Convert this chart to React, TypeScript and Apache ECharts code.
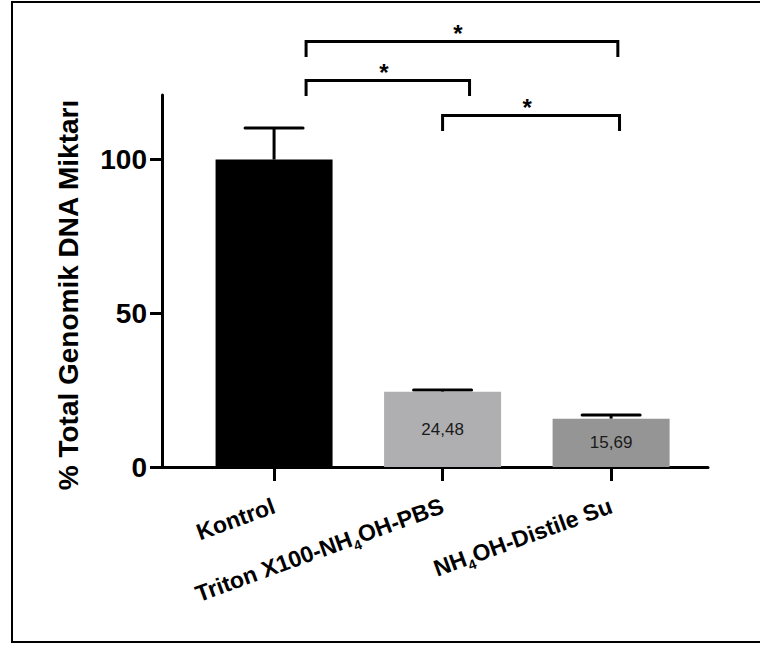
import React, { useEffect, useRef } from "react";
import * as echarts from "echarts";

const categories = ["Kontrol", "Triton X100-NH4OH-PBS", "NH4OH-Distile Su"];
const means = [100, 24.48, 15.69];
const errors = [10.3, 0.6, 1.25];
const barColors = ["#000000", "#afaeb1", "#959595"];
const yTicks = [0, 50, 100];
// significance brackets (x in category units, height in value units)
const sigFrom = [1.19, 1.19, 2.0];
const sigTo = [3.04, 2.16, 3.05];
const sigHeight = [138.4, 125.7, 114.3];
const sigMarks = ["*", "*", "*"];

const FONT = "'Liberation Sans', Arial, Helvetica, sans-serif";

export default function App() {
  const ref = useRef<HTMLDivElement>(null);
  useEffect(() => {
    if (!ref.current) return;
    const chart = echarts.init(ref.current, null, { renderer: "svg" });
    const positions = categories.map((_, i) => i + 1);
    const richLabels = categories.map((c) => c.replace(/NH4OH/g, "NH{sub|4}OH"));

    const option: any = {
      animation: false,
      backgroundColor: "#ffffff",
      grid: { left: 162, top: 95, right: 52, bottom: 179, containLabel: false },
      xAxis: {
        type: "value",
        min: 0.335,
        max: 3.575,
        splitLine: { show: false },
        axisLine: { show: true, lineStyle: { color: "#000", width: 3 } },
        axisTick: {
          show: true,
          customValues: positions,
          length: 14,
          lineStyle: { color: "#000", width: 3 },
        },
        axisLabel: {
          customValues: positions,
          rotate: 20,
          margin: 38,
          color: "#000",
          fontSize: 23,
          fontWeight: "bold",
          fontFamily: FONT,
          formatter: (v: number) => richLabels[Math.round(v) - 1] || "",
          rich: {
            sub: {
              fontSize: 14,
              fontWeight: "bold",
              fontFamily: FONT,
              color: "#000",
              verticalAlign: "bottom",
              padding: [0, 0, -4, 0],
            },
          },
        },
      },
      yAxis: {
        type: "value",
        min: 0,
        max: 121,
        name: "% Total Genomik DNA Miktarı",
        nameLocation: "middle",
        nameRotate: 90,
        nameGap: 80,
        nameTextStyle: {
          fontSize: 28,
          fontWeight: "bold",
          fontFamily: FONT,
          color: "#000",
          padding: [0, 28, 0, 0],
        },
        splitLine: { show: false },
        axisLine: { show: true, lineStyle: { color: "#000", width: 3 } },
        axisTick: {
          show: true,
          customValues: yTicks,
          length: 12,
          lineStyle: { color: "#000", width: 3 },
        },
        axisLabel: {
          customValues: yTicks,
          margin: 15,
          color: "#000",
          fontSize: 28,
          fontWeight: "bold",
          fontFamily: FONT,
        },
      },
      graphic: [
        {
          type: "rect",
          shape: { x: 12, y: 2, width: 760, height: 640 },
          style: { fill: "none", stroke: "#000", lineWidth: 2 },
          silent: true,
        },
      ],
      series: [
        {
          type: "bar",
          barWidth: 117,
          data: means.map((m, i) => ({
            value: [positions[i], m],
            itemStyle: { color: barColors[i] },
            label: { show: i > 0 },
          })),
          label: {
            show: true,
            position: "inside",
            color: "#1a1a1a",
            fontSize: 17,
            fontFamily: FONT,
            formatter: (p: any) => Number(p.value[1]).toFixed(2).replace(".", ","),
          },
        },
        {
          type: "custom",
          clip: false,
          encode: { x: 0, y: 1 },
          data: means.map((m, i) => [positions[i], m, errors[i]]),
          renderItem: (params: any, api: any) => {
            const x = api.value(0);
            const m = api.value(1);
            const e = api.value(2);
            const base = api.coord([x, m]);
            const top = api.coord([x, m + e]);
            const half = 29;
            return {
              type: "group",
              children: [
                {
                  type: "line",
                  shape: { x1: base[0], y1: base[1], x2: top[0], y2: top[1] },
                  style: { stroke: "#000", lineWidth: 3 },
                },
                {
                  type: "line",
                  shape: { x1: top[0] - half, y1: top[1], x2: top[0] + half, y2: top[1] },
                  style: { stroke: "#000", lineWidth: 3, lineCap: "round" },
                },
              ],
            };
          },
        },
        {
          type: "custom",
          clip: false,
          encode: { x: [0, 1], y: 2 },
          data: sigFrom.map((f, i) => [f, sigTo[i], sigHeight[i], i]),
          renderItem: (params: any, api: any) => {
            const f = api.value(0);
            const t = api.value(1);
            const h = api.value(2);
            const idx = api.value(3);
            const drop = 5;
            const a = api.coord([f, h]);
            const b = api.coord([t, h]);
            const ad = api.coord([f, h - drop]);
            const bd = api.coord([t, h - drop]);
            return {
              type: "group",
              children: [
                {
                  type: "polyline",
                  shape: {
                    points: [
                      [a[0], ad[1]],
                      [a[0], a[1]],
                      [b[0], b[1]],
                      [b[0], bd[1]],
                    ],
                  },
                  style: { stroke: "#000", lineWidth: 3, fill: "none" },
                },
                {
                  type: "text",
                  x: (a[0] + b[0]) / 2 - 4,
                  y: a[1] - 8,
                  style: {
                    text: sigMarks[idx],
                    fontSize: 24,
                    fontWeight: "bold",
                    fontFamily: FONT,
                    fill: "#000",
                    align: "center",
                    verticalAlign: "middle",
                  },
                },
              ],
            };
          },
        },
      ],
    };
    chart.setOption(option);
    return () => chart.dispose();
  }, []);

  return (
    <div
      ref={ref}
      style={{ position: "fixed", left: 0, top: 0, width: 760, height: 646, background: "#fff" }}
    />
  );
}
